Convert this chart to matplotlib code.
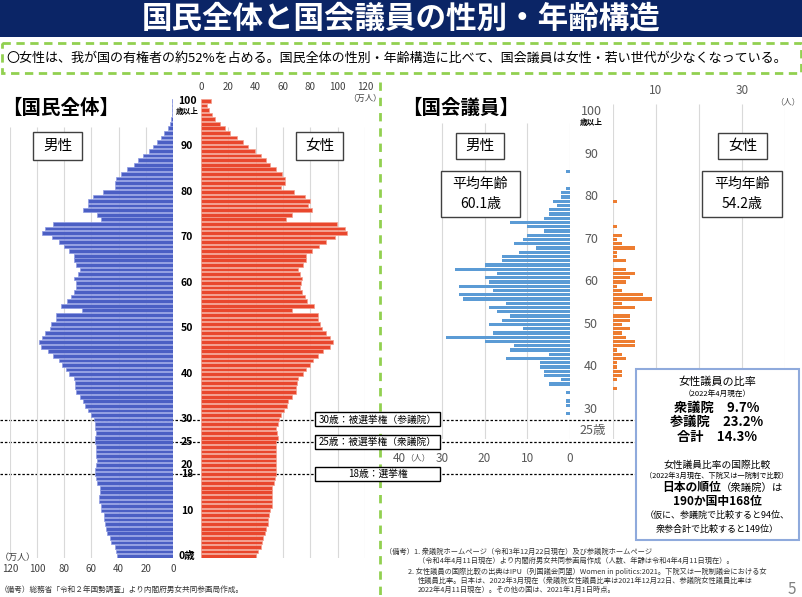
import matplotlib
matplotlib.use("Agg")
import matplotlib.pyplot as plt
import matplotlib.transforms as mtransforms
from matplotlib.patches import Rectangle

plt.rcParams["font.family"] = ["Noto Sans CJK JP", "DejaVu Sans"]

W, H = 803, 597

# 国民全体（万人）: 0歳 .. 100歳以上
pop_ages = list(range(0, 101))
pop_male = [
    40.9, 41.7, 42.9, 45.3, 46.6, 48.3, 49.5, 49.8, 51.0, 51.0,
    52.7, 53.2, 54.7, 54.2, 53.9, 53.9, 55.9, 56.4, 57.6, 57.4,
    56.4, 55.9, 56.4, 56.4, 56.9, 57.1, 57.1, 56.9, 57.1, 57.6,
    58.3, 60.0, 62.5, 65.0, 66.2, 68.6, 71.1, 72.3, 72.3, 73.0,
    76.5, 78.9, 81.6, 84.1, 88.2, 91.9, 97.5, 98.5, 96.8, 93.9,
    90.7, 89.5, 86.5, 86.5, 66.9, 82.8, 77.7, 75.2, 73.0, 71.6,
    71.6, 72.8, 70.3, 68.1, 71.6, 73.0, 72.8, 76.5, 80.1, 84.1,
    89.0, 96.8, 94.4, 88.2, 53.2, 55.6, 66.2, 62.5, 62.5, 58.8,
    51.5, 42.6, 42.6, 42.2, 38.5, 33.6, 28.7, 25.7, 22.1, 17.9,
    14.7, 11.5, 9.1, 6.6, 3.7, 2.5, 1.2, 0.9, 0.6, 0.4, 0.8,
]
pop_female = [
    40.1, 41.4, 43.6, 44.3, 45.5, 46.7, 47.4, 48.7, 49.1, 49.9,
    50.4, 51.6, 51.6, 51.6, 51.6, 52.3, 53.3, 54.0, 54.7, 54.7,
    55.2, 55.2, 55.2, 55.2, 55.2, 55.2, 56.0, 55.7, 55.2, 56.0,
    57.2, 58.9, 60.8, 63.0, 64.0, 66.9, 69.8, 69.8, 70.3, 71.0,
    74.7, 76.6, 79.6, 82.0, 85.6, 89.3, 94.6, 96.6, 94.6, 91.7,
    88.8, 87.3, 85.6, 85.6, 66.9, 82.7, 77.6, 75.9, 74.0, 72.3,
    73.0, 74.2, 72.7, 71.0, 74.7, 76.6, 76.6, 81.5, 86.1, 91.2,
    97.8, 107.1, 105.6, 99.8, 62.5, 66.9, 81.3, 78.3, 79.6, 75.9,
    68.1, 58.4, 61.3, 61.3, 59.6, 55.2, 50.4, 47.9, 43.8, 39.4,
    34.5, 30.4, 26.5, 21.2, 17.5, 13.9, 10.2, 7.8, 5.8, 4.1, 7.1,
]
pop_ticks = [0, 20, 40, 60, 80, 100, 120]
pop_age_labels = [100, 90, 80, 70, 60, 50, 40, 30, 25, 20, 18, 10, 0]

# 国会議員（人）
mp_male_ages = list(range(29, 87))
mp_male = [
    1, 0, 1, 1, 0, 1, 0, 5, 2, 6,
    6, 7, 7, 15, 5, 14, 13, 20, 29, 18,
    11, 19, 16, 14, 17, 19, 15, 25, 26, 18,
    26, 19, 20, 17, 27, 20, 16, 16, 12, 8,
    13, 11, 10, 6, 10, 14, 6, 5, 5, 3,
    4, 2, 2, 1, 0, 0, 0, 1,
]
mp_female_ages = list(range(35, 80))
mp_female = [
    1, 0, 1, 2, 2, 1, 1, 3, 2, 1,
    5, 5, 3, 2, 4, 2, 4, 4, 0, 5,
    2, 9, 7, 2, 1, 3, 4, 5, 3, 0,
    3, 1, 1, 5, 2, 1, 2, 0, 1, 0,
    0, 0, 0, 0, 1,
]
mp_ticks = [0, 10, 20, 30, 40]
mp_age_labels = [100, 90, 80, 70, 60, 50, 40, 30]

elections = [(30, "30歳：被選挙権（参議院）"), (25, "25歳：被選挙権（衆議院）"), (18, "18歳：選挙権")]

ratio_lines = [
    ("女性議員の比率", 8, "normal", 382),
    ("（2022年4月現在）", 5.5, "normal", 394),
    ("衆議院　9.7%", 9.5, "bold", 408),
    ("参議院　23.2%", 9.5, "bold", 422),
    ("合計　14.3%", 9.5, "bold", 437),
    ("女性議員比率の国際比較", 7, "normal", 465),
    ("（2022年3月現在、下院又は一院制で比較）", 5.2, "normal", 476),
    ("190か国中168位", 8.5, "bold", 502),
    ("（仮に、参議院で比較すると94位、", 6.5, "normal", 515),
    ("衆参合計で比較すると149位）", 6.5, "normal", 529),
]

notes_right = [
    (385, 552, "（備考）1. 衆議院ホームページ（令和3年12月22日現在）及び参議院ホームページ"),
    (418, 561, "（令和4年4月11日現在）より内閣府男女共同参画局作成（人数、年齢は令和4年4月11日現在）。"),
    (408, 572, "2. 女性議員の国際比較の出典はIPU（列国議会同盟）Women in politics:2021。下院又は一院制議会における女"),
    (418, 581, "性議員比率。日本は、2022年3月現在（衆議院女性議員比率は2021年12月22日、参議院女性議員比率は"),
    (418, 590, "2022年4月11日現在）。その他の国は、2021年1月1日時点。"),
]

NAVY = "#0b2566"
GREEN = "#92d050"
GRID = "#d9d9d9"


def px_axes(fig, x0, y0, x1, y1):
    return fig.add_axes([x0 / W, 1 - y1 / H, (x1 - x0) / W, (y1 - y0) / H])


def clean(ax):
    ax.set_facecolor("none")
    for s in ax.spines.values():
        s.set_visible(False)
    ax.set_yticks([])


def box(ax, x0, y0, x1, y1, text, size, ec="#404040", lw=1.0, **kw):
    ax.add_patch(Rectangle((x0, y0), x1 - x0, y1 - y0, facecolor="white",
                           edgecolor=ec, lw=lw, zorder=3))
    if text:
        ax.text((x0 + x1) / 2, (y0 + y1) / 2, text, ha="center", va="center",
                fontsize=size, zorder=4, **kw)


fig = plt.figure(figsize=(W / 100, H / 100), dpi=100)

bg = fig.add_axes([0, 0, 1, 1])
bg.set_xlim(0, W)
bg.set_ylim(H, 0)
bg.axis("off")
bg.set_zorder(0)

# 国民全体
age_top = 556 - 4.55 * 100.5
age_bot = 556 + 4.55 * 0.5
ax_m = px_axes(fig, 10, age_top, 173, age_bot)
ax_f = px_axes(fig, 201, age_top, 365, age_bot)
for ax in (ax_m, ax_f):
    clean(ax)
    ax.set_ylim(-0.5, 100.5)
    ax.set_xlim(0, 120)
    ax.set_xticks(pop_ticks)
    ax.vlines(pop_ticks, -0.5, 94.3, color=GRID, lw=0.8, zorder=0)
    ax.set_zorder(1)
ax_m.invert_xaxis()
ax_m.barh(pop_ages, pop_male, height=0.8, color="#4b5fc4", edgecolor="#8e9be3", lw=0.5, zorder=2)
ax_f.barh(pop_ages, pop_female, height=0.8, color="#e9472d", edgecolor="#f4a08f", lw=0.5, zorder=2)
ax_m.tick_params(axis="x", length=0, labelsize=7, labelcolor="#404040", pad=4)
ax_f.xaxis.set_ticks_position("top")
ax_f.tick_params(axis="x", length=0, labelsize=7, labelcolor="#404040", pad=5)

# 国会議員
mp_top = 537 - 4.25 * 101.8
mp_bot = 537 - 4.25 * 23
ax_pm = px_axes(fig, 570 - 40 * 4.27, mp_top, 570, mp_bot)
ax_pf = px_axes(fig, 613, mp_top, 613 + 40 * 4.3, mp_bot)
for ax in (ax_pm, ax_pf):
    clean(ax)
    ax.set_ylim(23, 101.8)
    ax.set_xlim(0, 40)
    ax.set_xticks(mp_ticks)
    ax.set_zorder(1)
ax_pm.invert_xaxis()
ax_pm.vlines(mp_ticks[:-1], 23, 97.4, color=GRID, lw=0.8, zorder=0)
ax_pf.vlines(mp_ticks, 23, 101.8, color=GRID, lw=0.8, zorder=0)
ax_pm.barh(mp_male_ages, mp_male, height=0.72, color="#5b9bd5", zorder=2)
ax_pf.barh(mp_female_ages, mp_female, height=0.72, color="#ed7d31", zorder=2)
ax_pm.tick_params(axis="x", length=0, labelsize=8.5, labelcolor="#595959", pad=9)
ax_pf.xaxis.set_ticks_position("top")
ax_pf.set_xticklabels(["", "10", "", "30", ""])
ax_pf.tick_params(axis="x", length=0, labelsize=8.5, labelcolor="#595959", pad=5)

fg = fig.add_axes([0, 0, 1, 1])
fg.set_xlim(0, W)
fg.set_ylim(H, 0)
fg.axis("off")
fg.set_facecolor("none")
fg.set_zorder(2)

# title and lead
bg.add_patch(Rectangle((0, 0), W, 37, facecolor=NAVY, edgecolor="none"))
fg.text(W / 2, 19, "国民全体と国会議員の性別・年齢構造", color="white", fontsize=22,
        fontweight="bold", ha="center", va="center")
fg.add_patch(Rectangle((2, 43), W - 4, 30, facecolor="none", edgecolor=GREEN,
                       lw=2, linestyle=(0, (3, 2))))
fg.text(6, 58, "〇女性は、我が国の有権者の約52%を占める。国民全体の性別・年齢構造に比べて、"
        "国会議員は女性・若い世代が少なくなっている。", fontsize=9.4, va="center", ha="left")
bg.plot([380, 380], [82, H], color=GREEN, lw=2, linestyle=(0, (3, 2.5)))

fg.text(2, 108, "【国民全体】", fontsize=14, fontweight="bold", va="center")
fg.text(402, 108, "【国会議員】", fontsize=14, fontweight="bold", va="center")

# population age labels
tr_pop = mtransforms.blended_transform_factory(fg.transData, ax_m.transData)
for a in pop_age_labels:
    lab = "0歳" if a == 0 else str(a)
    fg.text(187, a, lab, transform=tr_pop, fontsize=7.5, fontweight="bold",
            ha="center", va="center")
fg.text(187, 97.8, "歳以上", transform=tr_pop, fontsize=5.5, fontweight="bold",
        ha="center", va="center")
fg.text(365, 98, "（万人）", fontsize=6, color="#404040", ha="center", va="center")
fg.text(0, 557, "（万人）", fontsize=6.5, color="#404040", ha="left", va="center")

# parliament age labels
tr_mp = mtransforms.blended_transform_factory(fg.transData, ax_pm.transData)
for a in mp_age_labels:
    fg.text(591, a, str(a), transform=tr_mp, fontsize=9, color="#595959",
            ha="center", va="center")
fg.text(591, 97.6, "歳以上", transform=tr_mp, fontsize=5.5, fontweight="bold",
        ha="center", va="center")
fg.text(593, 25, "25歳", transform=tr_mp, fontsize=9, color="#595959",
        ha="center", va="center")
fg.text(788, 102, "（人）", fontsize=6, color="#595959", ha="center", va="center")

# election age lines and labels
for a, lab in elections:
    bg.plot([0, 636], [a, a], transform=tr_pop, color="black", lw=0.9,
            linestyle=(0, (2, 1.5)))
    yc = tr_pop.transform((0, a))
    yc = fg.transData.inverted().transform(yc)[1]
    box(fg, 315, yc - 7, 440, yc + 7, lab, 7, ec="black", lw=1)
fg.text(418, 458, "（人）", fontsize=6, color="#595959", ha="center", va="center", zorder=5)

# sex boxes
box(fg, 33, 132, 82, 160, "男性", 10.5)
box(fg, 296, 132, 343, 160, "女性", 10.5)
box(fg, 456, 133, 504, 159, "男性", 10.5)
box(fg, 718, 133, 767, 159, "女性", 10.5)
box(fg, 441, 171, 520, 217, "平均年齢\n60.1歳", 10, linespacing=1.5)
box(fg, 702, 171, 782, 217, "平均年齢\n54.2歳", 10, linespacing=1.5)

# ratio box
box(fg, 636, 369, 799, 540, None, 0, ec="#8faadc", lw=1.5)
for txt, size, weight, y in ratio_lines:
    fg.text(717, y, txt, fontsize=size, fontweight=weight, ha="center", va="center", zorder=5)
fg.text(721, 488, "日本の順位", fontsize=8.5, fontweight="bold", ha="right", va="center", zorder=5)
fg.text(721, 488, "（衆議院）は", fontsize=7.5, ha="left", va="center", zorder=5)

# notes
fg.text(0, 590, "（備考）総務省「令和２年国勢調査」より内閣府男女共同参画局作成。",
        fontsize=5.5, color="#333333", va="center")
for x, y, txt in notes_right:
    fg.text(x, y, txt, fontsize=5.2, color="#333333", va="center")
fg.text(792, 590, "5", fontsize=11, color="#808080", ha="center", va="center")

fig.savefig("out.png", dpi=100)
